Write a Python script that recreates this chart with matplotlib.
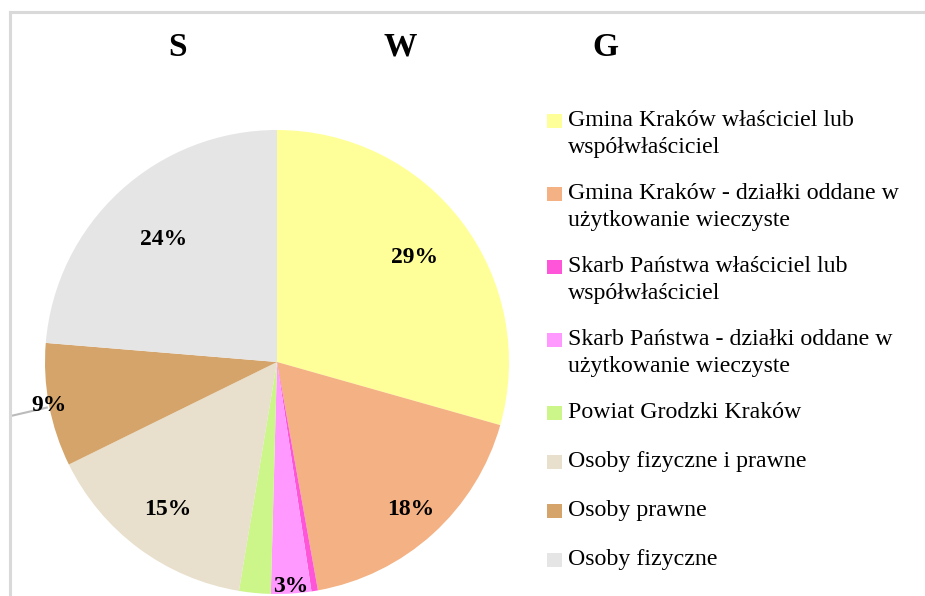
import matplotlib
matplotlib.use("Agg")
import matplotlib.pyplot as plt
import numpy as np
from matplotlib.patches import Rectangle
from matplotlib.lines import Line2D

# ---- data ----
categories = [
    "Gmina Kraków właściciel lub\nwspółwłaściciel",
    "Gmina Kraków - działki oddane w\nużytkowanie wieczyste",
    "Skarb Państwa właściciel lub\nwspółwłaściciel",
    "Skarb Państwa - działki oddane w\nużytkowanie wieczyste",
    "Powiat Grodzki Kraków",
    "Osoby fizyczne i prawne",
    "Osoby prawne",
    "Osoby fizyczne",
]
values = [29.4, 17.8, 0.45, 2.8, 2.2, 15.1, 8.6, 23.7]
pct_labels = ["29%", "18%", "", "3%", "", "15%", "9%", "24%"]
title_letters = ["S", "W", "G"]

colors = ["#FFFF99", "#F4B183", "#FF55D8", "#FF99FF", "#CCF58A",
          "#E8DFCC", "#D4A46A", "#E5E5E5"]
label_r = [0.745, 0.86, 0.0, 0.97, 0.0, 0.79, 1.0, 0.72]

W, H = 925, 596
plt.rcParams['font.family'] = ['Liberation Serif', 'DejaVu Serif']
fig = plt.figure(figsize=(W / 100, H / 100), dpi=100)

# border
fig.add_artist(Line2D([10 / W, 1.01], [1 - 12 / H, 1 - 12 / H], color="#D9D9D9", lw=2.2,
                      transform=fig.transFigure))
fig.add_artist(Line2D([10 / W, 10 / W], [1 - 12 / H, -0.01], color="#D9D9D9", lw=2.2,
                      transform=fig.transFigure))

cx, cy, R = 277, 362, 232
ax = fig.add_axes([(cx - R) / W, (H - cy - R) / H, 2 * R / W, 2 * R / H])
wedges, _ = ax.pie(values, colors=colors, startangle=90, counterclock=False,
                   radius=1.0, wedgeprops=dict(linewidth=0))
ax.set_xlim(-1, 1)
ax.set_ylim(-1, 1)
ax.set_aspect('equal')
ax.axis('off')

for w, lab, r in zip(wedges, pct_labels, label_r):
    if not lab:
        continue
    ang = np.deg2rad((w.theta1 + w.theta2) / 2)
    x, y = r * np.cos(ang), r * np.sin(ang)
    ax.text(x, y, lab, ha='center', va='center', fontsize=17, fontweight='bold',
            clip_on=False)
    if lab == "9%":
        ax.plot([x - 0.16, x - 0.01], [y - 0.045, y - 0.01], color="#BBBBBB", lw=1.5,
                clip_on=False, zorder=0)

# title letters
for xp, t in zip([177, 400, 605], title_letters):
    fig.text(xp / W, 1 - 47 / H, t, ha='center', va='center',
             fontsize=24, fontweight='bold')

# legend (manual)
y = 121
for c, lab in zip(colors, categories):
    nlines = lab.count("\n") + 1
    fig.add_artist(Rectangle((547 / W, 1 - (y + 7) / H), 15 / W, 14 / H,
                             facecolor=c, edgecolor='none', transform=fig.transFigure))
    fig.text(568 / W, 1 - (y - 11) / H, lab, ha='left', va='top', fontsize=17.2,
             linespacing=1.38)
    y += 49 if nlines == 1 else 73

fig.savefig("out.png", dpi=100)
